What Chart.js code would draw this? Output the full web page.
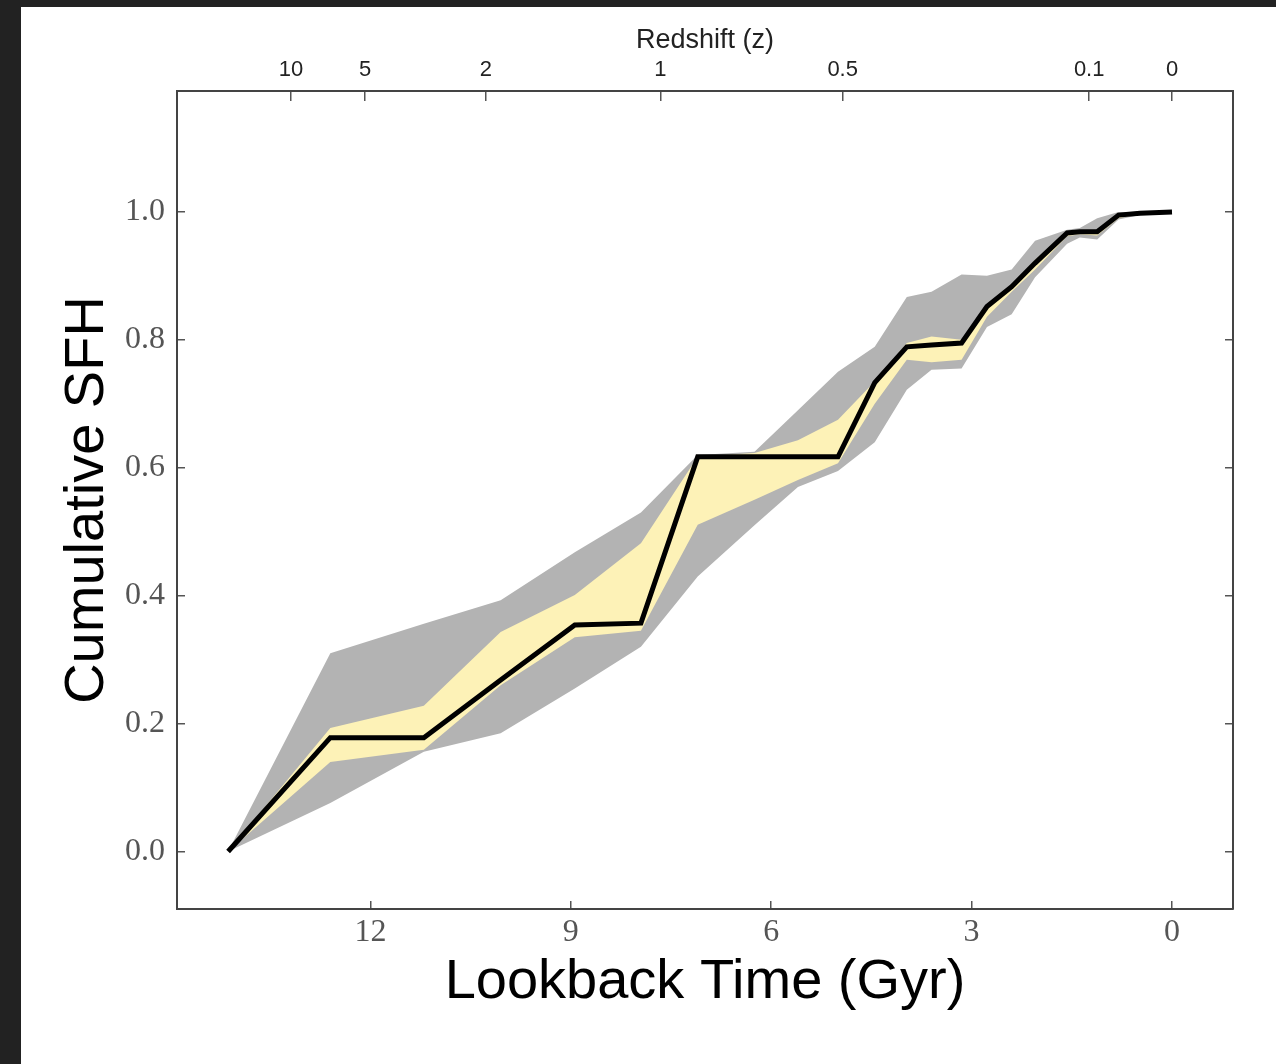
<!DOCTYPE html>
<html><head><meta charset="utf-8">
<script src="https://cdn.jsdelivr.net/npm/chart.js@4"></script>
<style>
html,body{margin:0;padding:0;background:#222;overflow:hidden;}
#panel{position:absolute;left:21px;top:7px;width:1255px;height:1057px;background:#fff;}
#c{position:absolute;left:0;top:0;}
</style></head><body>
<div id="panel"></div>
<canvas id="c" width="1276" height="1064"></canvas>
<script>
// Lookback time grid (Gyr)
const lookback = [14.13, 12.60, 11.20, 10.05, 8.94, 7.95, 7.10, 6.25, 5.60, 5.00, 4.45, 3.97, 3.60, 3.15, 2.77, 2.40, 2.05, 1.57, 1.38, 1.12, 0.80, 0.48, 0.00];
// Median cumulative SFH
const sfhMedian = [0, 0.178, 0.178, 0.268, 0.354, 0.357, 0.617, 0.617, 0.617, 0.617, 0.733, 0.789, 0.792, 0.795, 0.852, 0.883, 0.920, 0.967, 0.969, 0.969, 0.995, 0.998, 1.0];
// Inner (yellow) band
const yellowHi = [0, 0.193, 0.228, 0.343, 0.401, 0.482, 0.617, 0.623, 0.643, 0.675, 0.735, 0.795, 0.805, 0.800, 0.855, 0.885, 0.925, 0.969, 0.971, 0.971, 0.997, 0.999, 1.0];
const yellowLo = [0, 0.140, 0.159, 0.260, 0.335, 0.345, 0.511, 0.550, 0.581, 0.607, 0.700, 0.769, 0.765, 0.769, 0.836, 0.875, 0.910, 0.962, 0.965, 0.963, 0.990, 0.997, 1.0];
// Outer (grey) band
const grayHi = [0, 0.310, 0.356, 0.393, 0.468, 0.530, 0.620, 0.625, 0.690, 0.750, 0.789, 0.867, 0.875, 0.902, 0.900, 0.910, 0.955, 0.972, 0.975, 0.990, 1.0, 1.0, 1.0];
const grayLo = [0, 0.076, 0.156, 0.185, 0.255, 0.320, 0.430, 0.510, 0.570, 0.595, 0.640, 0.722, 0.753, 0.755, 0.820, 0.840, 0.898, 0.950, 0.960, 0.957, 0.988, 0.995, 1.0];
// Axes ticks
const xTicks = [0, 3, 6, 9, 12];
const yTicks = [0.0, 0.2, 0.4, 0.6, 0.8, 1.0];
const zLabels = ['10', '5', '2', '1', '0.5', '0.1', '0'];
const zLookback = [13.19, 12.08, 10.27, 7.66, 4.93, 1.24, 0];

const xMin = -0.913, xMax = 14.895;
const yMin = -0.0899, yMax = 1.189;

const pts = arr => lookback.map((t, i) => ({x: t, y: arr[i]}));
const GRAY = '#b3b3b3', YELLOW = '#fdf2b7';
const axisCol = '#444';

new Chart(document.getElementById('c'), {
  type: 'line',
  data: {
    datasets: [
      {data: pts(grayHi), fill: '+1', backgroundColor: GRAY, borderWidth: 0, pointRadius: 0, order: 3},
      {data: pts(grayLo), fill: false, borderWidth: 0, pointRadius: 0, order: 3},
      {data: pts(yellowHi), fill: '+1', backgroundColor: YELLOW, borderWidth: 0, pointRadius: 0, order: 2},
      {data: pts(yellowLo), fill: false, borderWidth: 0, pointRadius: 0, order: 2},
      {data: pts(sfhMedian), fill: false, borderColor: '#000', borderWidth: 5, pointRadius: 0,
       borderJoinStyle: 'miter', borderCapStyle: 'butt', order: 1}
    ]
  },
  options: {
    responsive: false,
    animation: false,
    devicePixelRatio: 1,
    layout: {padding: 0},
    elements: {line: {tension: 0}},
    plugins: {legend: {display: false}, tooltip: {enabled: false}},
    scales: {
      x: {
        type: 'linear', position: 'bottom', reverse: true, min: xMin, max: xMax,
        afterBuildTicks: s => { s.ticks = xTicks.map(v => ({value: v})); },
        afterFit: s => { s.height = 155; },
        ticks: {callback: v => String(v), font: {family: 'Liberation Serif', size: 32}, color: '#555', padding: 12, maxRotation: 0, autoSkip: false},
        grid: {drawOnChartArea: false, drawTicks: true, tickLength: -8, color: '#555', lineWidth: 1.5},
        border: {display: true, color: axisCol, width: 2},
        title: {display: true, text: 'Lookback Time (Gyr)', font: {family: 'Liberation Sans', size: 56}, color: '#000', padding: {top: 0, bottom: 48}}
      },
      x2: {
        type: 'linear', position: 'top', reverse: true, min: xMin, max: xMax,
        afterBuildTicks: s => { s.ticks = zLookback.map(v => ({value: v})); },
        afterFit: s => { s.height = 91; },
        ticks: {callback: (v, i) => zLabels[i], font: {family: 'Liberation Sans', size: 22}, color: '#222', padding: 18, maxRotation: 0, autoSkip: false},
        grid: {drawOnChartArea: false, drawTicks: true, tickLength: -10, color: '#555', lineWidth: 1.5},
        border: {display: true, color: axisCol, width: 2},
        title: {display: true, text: 'Redshift (z)', font: {family: 'Liberation Sans', size: 27}, color: '#222', padding: {top: 24, bottom: 0}}
      },
      y: {
        type: 'linear', position: 'left', min: yMin, max: yMax,
        afterBuildTicks: s => { s.ticks = yTicks.map(v => ({value: v})); },
        afterFit: s => { s.width = 177; },
        ticks: {callback: v => Number(v).toFixed(1), font: {family: 'Liberation Serif', size: 32}, color: '#555', padding: 20},
        grid: {drawOnChartArea: false, drawTicks: true, tickLength: -8, color: '#555', lineWidth: 1.5},
        border: {display: true, color: axisCol, width: 2},
        title: {display: true, text: 'Cumulative SFH', font: {family: 'Liberation Sans', size: 56}, color: '#000', padding: {top: 54, bottom: 0}}
      },
      y2: {
        type: 'linear', position: 'right', min: yMin, max: yMax,
        afterBuildTicks: s => { s.ticks = yTicks.map(v => ({value: v})); },
        afterFit: s => { s.width = 43; },
        ticks: {display: false},
        grid: {drawOnChartArea: false, drawTicks: true, tickLength: -8, color: '#555', lineWidth: 1.5},
        border: {display: true, color: axisCol, width: 2}
      }
    }
  }
});
</script>
</body></html>
